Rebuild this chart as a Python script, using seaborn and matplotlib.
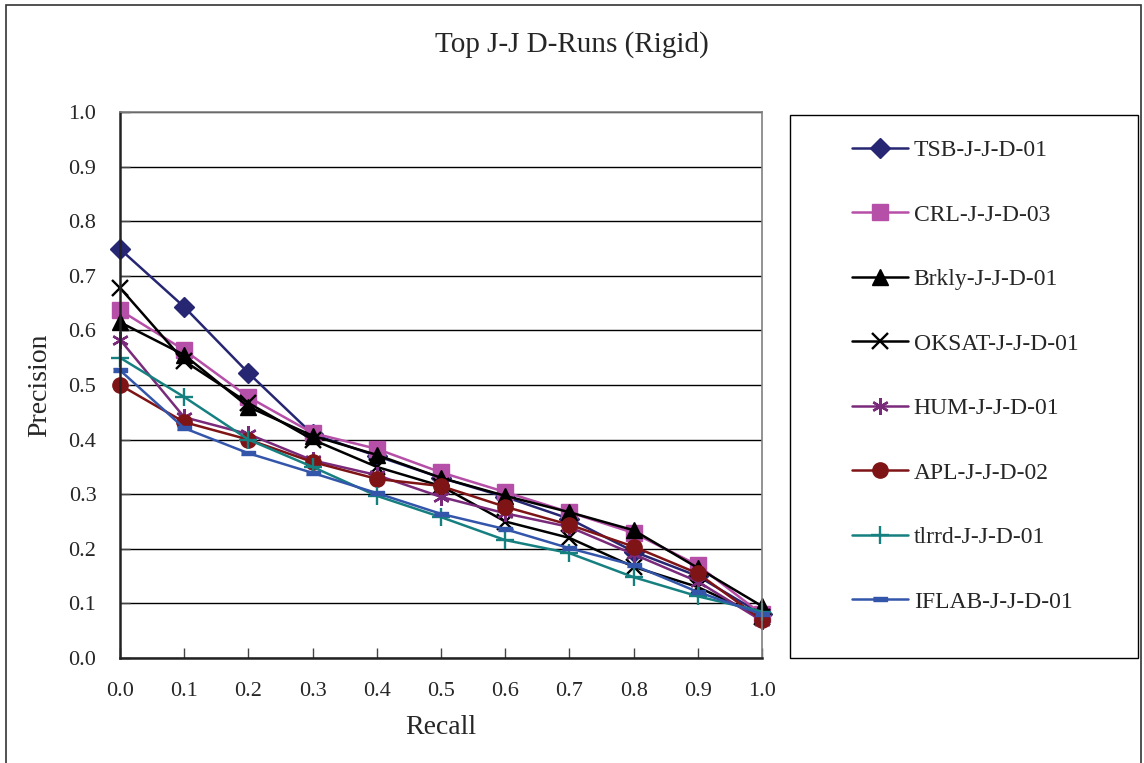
import pandas as pd
import numpy as np
import matplotlib
matplotlib.use("Agg")
import matplotlib.pyplot as plt
import matplotlib.ticker as mticker
from matplotlib.patches import Rectangle
import seaborn as sns

# recall levels and precision values per run
recall = [0.0, 0.1, 0.2, 0.3, 0.4, 0.5, 0.6, 0.7, 0.8, 0.9, 1.0]
runs = ["TSB-J-J-D-01", "CRL-J-J-D-03", "Brkly-J-J-D-01", "OKSAT-J-J-D-01",
        "HUM-J-J-D-01", "APL-J-J-D-02", "tlrrd-J-J-D-01", "IFLAB-J-J-D-01"]
tsb = [0.749, 0.643, 0.522, 0.410, 0.370, 0.330, 0.295, 0.255, 0.195, 0.150, 0.080]
crl = [0.637, 0.564, 0.478, 0.412, 0.383, 0.340, 0.304, 0.267, 0.229, 0.170, 0.080]
brkly = [0.615, 0.555, 0.460, 0.407, 0.372, 0.330, 0.297, 0.267, 0.234, 0.165, 0.095]
oksat = [0.678, 0.544, 0.467, 0.400, 0.350, 0.315, 0.250, 0.220, 0.167, 0.130, 0.075]
hum = [0.583, 0.441, 0.410, 0.362, 0.335, 0.295, 0.265, 0.240, 0.190, 0.140, 0.068]
apl = [0.500, 0.432, 0.400, 0.359, 0.328, 0.315, 0.277, 0.244, 0.204, 0.155, 0.070]
tlrrd = [0.550, 0.478, 0.400, 0.350, 0.297, 0.258, 0.216, 0.192, 0.148, 0.113, 0.085]
iflab = [0.527, 0.421, 0.375, 0.339, 0.302, 0.264, 0.236, 0.201, 0.170, 0.121, 0.080]

colors = ["#262673", "#B64FA8", "#000000", "#000000",
          "#7A2A7A", "#7F1416", "#168080", "#3355AA"]
bar = [(-1, -0.35), (1, -0.35), (1, 0.35), (-1, 0.35)]
markers = ["D", "s", "^", "x", (6, 2, 0), "o", "+", bar]
msizes = [10, 11, 11, 12, 12, 11, 13, 10]

series = [tsb, crl, brkly, oksat, hum, apl, tlrrd, iflab]
df = pd.DataFrame({
    "Recall": np.tile(recall, len(runs)),
    "Precision": np.concatenate(series),
    "Run": np.repeat(runs, len(recall)),
})

sns.set_style("white")
plt.rcParams["font.family"] = ["Liberation Serif", "DejaVu Serif"]

fig = plt.figure(figsize=(11.44, 7.63), dpi=100)
ax = fig.add_axes([120 / 1144, 1 - 658 / 763, 642 / 1144, 546 / 763])

for i, run in enumerate(runs):
    sns.lineplot(data=df[df["Run"] == run], x="Recall", y="Precision", ax=ax,
                 color=colors[i], marker=markers[i], markersize=msizes[i],
                 markeredgecolor=colors[i], markeredgewidth=1.7 if i in (3, 4, 6) else 1,
                 linewidth=1.8, label=run, clip_on=False)

ax.set_xlim(0, 1)
ax.set_ylim(0, 1)
ax.set_xticks(np.arange(0, 1.01, 0.1))
ax.set_yticks(np.arange(0, 1.01, 0.1))
ax.xaxis.set_major_formatter(mticker.FormatStrFormatter("%.1f"))
ax.yaxis.set_major_formatter(mticker.FormatStrFormatter("%.1f"))
ax.yaxis.grid(True, color="black", linewidth=1)
ax.xaxis.grid(False)
for s in ax.spines.values():
    s.set_color("#808080")
    s.set_linewidth(1.2)
ax.spines["left"].set_color("#222222")
ax.spines["bottom"].set_color("#222222")
ax.spines["left"].set_linewidth(1.8)
ax.spines["bottom"].set_linewidth(1.8)
ax.tick_params(axis="both", direction="in", length=7, width=1, color="#444444",
               labelsize=16, pad=17, bottom=True, left=True)
ax.set_xlabel("Recall", fontsize=20, labelpad=10)
ax.set_ylabel("Precision", fontsize=20, labelpad=12)

fig.text(0.5, 1 - 45 / 763, "Top J-J D-Runs (Rigid)", ha="center", va="center", fontsize=21)

# legend box and outer frame
fig.patches.append(Rectangle((790 / 1144, 1 - 658 / 763), 348 / 1144, 543 / 763,
                             transform=fig.transFigure, fill=False,
                             edgecolor="black", linewidth=1))
fig.patches.append(Rectangle((6 / 1144, -0.01), 1135 / 1144, 758 / 763 + 0.01,
                             transform=fig.transFigure, fill=False,
                             edgecolor="#333333", linewidth=1.2))
ax.legend(loc="center left", bbox_to_anchor=(831 / 1144, 1 - 376 / 763),
          bbox_transform=fig.transFigure, frameon=False, fontsize=17,
          handlelength=2.35, handletextpad=0.25, labelspacing=1.82)

plt.savefig("out.png", dpi=100)
